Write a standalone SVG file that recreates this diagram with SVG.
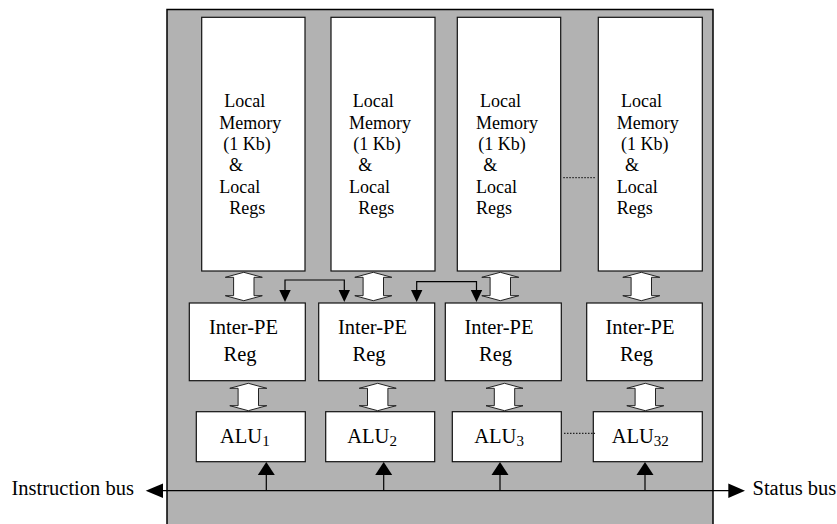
<svg xmlns="http://www.w3.org/2000/svg" width="837" height="524" viewBox="0 0 837 524">
<defs>
<style>
.box{fill:#fff;stroke:#111;stroke-width:1.2}
text{font-family:'Liberation Serif','Times New Roman','DejaVu Serif',serif;fill:#000}
.m{font-size:18px}
.b{font-size:20.5px}
.sub{font-size:15px}
.dbl{fill:#fff;stroke:#222;stroke-width:1}
.ln{fill:none;stroke:#000;stroke-width:1.2}
.dot{fill:none;stroke:#000;stroke-width:1;stroke-dasharray:1.5 1.5}
.ah{fill:#000}
</style>
</defs>
<rect x="167" y="9.5" width="546" height="530" fill="#b2b2b2" stroke="#000" stroke-width="1.5"/>

<g id="mem1"><rect class="box" x="201.7" y="17.3" width="103.3" height="253.7"/>
<text class="m" font-family="Liberation Serif, serif"><tspan x="224.3" y="107.3">Local</tspan><tspan x="219.3" y="128.6">Memory</tspan><tspan x="223.3" y="150">(1 Kb)</tspan><tspan x="229" y="171.3">&amp;</tspan><tspan x="219.3" y="192.6">Local</tspan><tspan x="229.3" y="214">Regs</tspan></text></g>
<g id="mem2"><rect class="box" x="331" y="17.3" width="104" height="253.7"/>
<text class="m" font-family="Liberation Serif, serif"><tspan x="352.7" y="107.3">Local</tspan><tspan x="349" y="128.6">Memory</tspan><tspan x="353.3" y="150">(1 Kb)</tspan><tspan x="358.3" y="171.3">&amp;</tspan><tspan x="349" y="192.6">Local</tspan><tspan x="358.3" y="214">Regs</tspan></text></g>
<g id="mem3"><rect class="box" x="457.3" y="17.3" width="103.4" height="253.7"/>
<text class="m" font-family="Liberation Serif, serif"><tspan x="480" y="107.3">Local</tspan><tspan x="476" y="128.6">Memory</tspan><tspan x="478.3" y="150">(1 Kb)</tspan><tspan x="483.3" y="171.3">&amp;</tspan><tspan x="476" y="192.6">Local</tspan><tspan x="476" y="214">Regs</tspan></text></g>
<g id="mem4"><rect class="box" x="598.3" y="17.3" width="104" height="253.7"/>
<text class="m" font-family="Liberation Serif, serif"><tspan x="621" y="107.3">Local</tspan><tspan x="616.7" y="128.6">Memory</tspan><tspan x="621" y="150">(1 Kb)</tspan><tspan x="625" y="171.3">&amp;</tspan><tspan x="616.7" y="192.6">Local</tspan><tspan x="616.7" y="214">Regs</tspan></text></g>

<g id="ipe1"><rect class="box" x="189.3" y="303" width="116" height="77.7"/>
<text class="b" text-anchor="middle" font-family="Liberation Serif, serif"><tspan x="243.5" y="333.5">Inter-PE</tspan><tspan x="240" y="360.5">Reg</tspan></text></g>
<g id="ipe2"><rect class="box" x="318.7" y="303" width="116" height="77.7"/>
<text class="b" text-anchor="middle" font-family="Liberation Serif, serif"><tspan x="372.5" y="333.5">Inter-PE</tspan><tspan x="369" y="360.5">Reg</tspan></text></g>
<g id="ipe3"><rect class="box" x="445.3" y="303" width="116" height="77.7"/>
<text class="b" text-anchor="middle" font-family="Liberation Serif, serif"><tspan x="499" y="333.5">Inter-PE</tspan><tspan x="495.5" y="360.5">Reg</tspan></text></g>
<g id="ipe4"><rect class="box" x="586.7" y="303" width="115.6" height="77.7"/>
<text class="b" text-anchor="middle" font-family="Liberation Serif, serif"><tspan x="640" y="333.5">Inter-PE</tspan><tspan x="636.5" y="360.5">Reg</tspan></text></g>

<g id="alu1"><rect class="box" x="196.3" y="411.7" width="109" height="50"/>
<text class="b" x="220" y="442.7" font-family="Liberation Serif, serif">ALU<tspan class="sub" dy="3.5">1</tspan></text></g>
<g id="alu2"><rect class="box" x="325.7" y="411.7" width="109" height="50"/>
<text class="b" x="347.3" y="442.7" font-family="Liberation Serif, serif">ALU<tspan class="sub" dy="3.5">2</tspan></text></g>
<g id="alu3"><rect class="box" x="452.3" y="411.7" width="109" height="50"/>
<text class="b" x="474.3" y="442.7" font-family="Liberation Serif, serif">ALU<tspan class="sub" dy="3.5">3</tspan></text></g>
<g id="alu32"><rect class="box" x="593.3" y="411.7" width="109" height="50"/>
<text class="b" x="611.7" y="442.7" font-family="Liberation Serif, serif">ALU<tspan class="sub" dy="3.5">32</tspan></text></g>

<text class="b" x="11.5" y="494.5" font-family="Liberation Serif, serif">Instruction bus</text>
<text class="b" x="752.5" y="494.5" font-family="Liberation Serif, serif">Status bus</text>

<g id="connectors">
<polygon class="dbl" points="243.8,272.3 262.3,277.3 254,277.3 254,295.7 262.3,295.7 243.8,300.7 225.3,295.7 233.6,295.7 233.6,277.3 225.3,277.3"/>
<polygon class="dbl" points="373.3,272.3 391.8,277.3 383.5,277.3 383.5,295.7 391.8,295.7 373.3,300.7 354.8,295.7 363.1,295.7 363.1,277.3 354.8,277.3"/>
<polygon class="dbl" points="500.3,272.3 518.8,277.3 510.5,277.3 510.5,295.7 518.8,295.7 500.3,300.7 481.8,295.7 490.1,295.7 490.1,277.3 481.8,277.3"/>
<polygon class="dbl" points="641.3,272.3 659.8,277.3 651.5,277.3 651.5,295.7 659.8,295.7 641.3,300.7 622.8,295.7 631.1,295.7 631.1,277.3 622.8,277.3"/>

<polygon class="dbl" points="248.3,383.3 266.8,388.3 258.5,388.3 258.5,405.7 266.8,405.7 248.3,410.7 229.8,405.7 238.1,405.7 238.1,388.3 229.8,388.3"/>
<polygon class="dbl" points="377.7,383.3 396.2,388.3 387.9,388.3 387.9,405.7 396.2,405.7 377.7,410.7 359.2,405.7 367.5,405.7 367.5,388.3 359.2,388.3"/>
<polygon class="dbl" points="504.5,383.3 523,388.3 514.7,388.3 514.7,405.7 523,405.7 504.5,410.7 486,405.7 494.3,405.7 494.3,388.3 486,388.3"/>
<polygon class="dbl" points="645.3,383.3 663.8,388.3 655.5,388.3 655.5,405.7 663.8,405.7 645.3,410.7 626.8,405.7 635.1,405.7 635.1,388.3 626.8,388.3"/>

<polyline class="ln" points="285,291 285,280 344.3,280 344.3,291"/>
<polygon class="ah" points="279.3,290 290.7,290 285,302"/>
<polygon class="ah" points="338.6,290 350,290 344.3,302"/>
<polyline class="ln" points="416.7,291 416.7,281.7 476.5,281.7 476.5,291"/>
<polygon class="ah" points="411,290 422.4,290 416.7,302"/>
<polygon class="ah" points="470.8,290 482.2,290 476.5,302"/>

<line class="dot" x1="563.3" y1="177.7" x2="595" y2="177.7"/>
<line class="dot" x1="564" y1="433.3" x2="595" y2="433.3"/>

<line class="ln" x1="160" y1="490.7" x2="731" y2="490.7"/>
<polygon class="ah" points="145.7,490.7 163,483.5 163,498"/>
<polygon class="ah" points="745,490.7 728.3,483.5 728.3,498"/>

<line class="ln" x1="266.3" y1="490.7" x2="266.3" y2="474"/>
<polygon class="ah" points="266.3,462 274.8,475 257.8,475"/>
<line class="ln" x1="383.7" y1="490.7" x2="383.7" y2="474"/>
<polygon class="ah" points="383.7,462 392.2,475 375.2,475"/>
<line class="ln" x1="500" y1="490.7" x2="500" y2="474"/>
<polygon class="ah" points="500,462 508.5,475 491.5,475"/>
<line class="ln" x1="645" y1="490.7" x2="645" y2="474"/>
<polygon class="ah" points="645,462 653.5,475 636.5,475"/>
</g>
</svg>
